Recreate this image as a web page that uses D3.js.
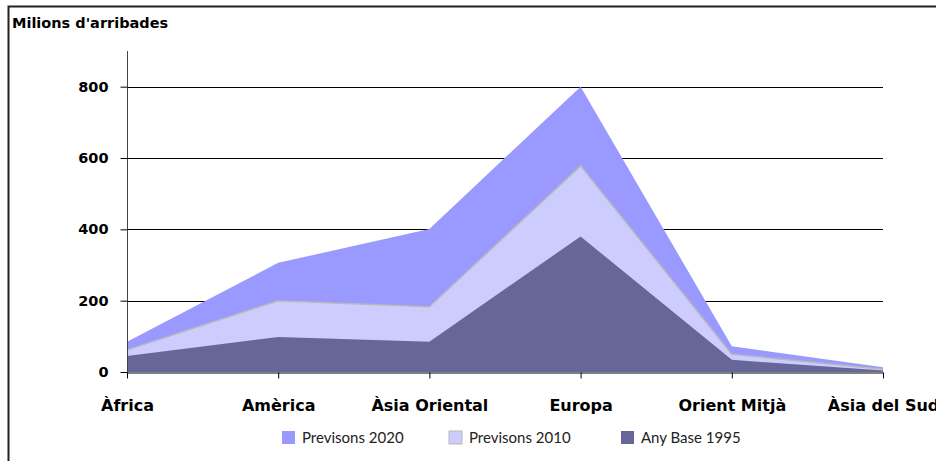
<!DOCTYPE html>
<html>
<head>
<meta charset="utf-8">
<script src="https://cdn.jsdelivr.net/npm/d3@7"></script>
<style>
  body { margin: 0; background: #fff; overflow: hidden; }
  text { font-family: "Gill Sans", "Lato", sans-serif; }
  text.bold { font-family: "DejaVu Sans", sans-serif; font-weight: bold; }
</style>
</head>
<body>
<div id="chart"></div>
<script>
  // The data
  var regions = ["Àfrica", "Amèrica", "Àsia Oriental", "Europa", "Orient Mitjà", "Àsia del Sud"]
  var prev2020 = [85, 306, 401, 800, 72, 13]
  var prev2010 = [62, 200, 183, 578, 50, 8]
  var base1995 = [45, 98, 85, 380, 34, 4]
  var yTicks = [0, 200, 400, 600, 800]

  var series = [
    { name: "Previsons 2020", values: prev2020, fill: "#9999ff" },
    { name: "Previsons 2010", values: prev2010, fill: "#ccccff" },
    { name: "Any Base 1995", values: base1995, fill: "#666699" }
  ]

  var width = 936
  var height = 461

  var svg = d3.select("#chart")
    .append("svg")
    .attr("width", width)
    .attr("height", height)

  // frame
  svg.append("rect")
    .attr("x", 8.5).attr("y", 6.5)
    .attr("width", 1000).attr("height", 500)
    .attr("fill", "none")
    .attr("stroke", "#222")
    .attr("stroke-width", 2)

  var x = d3.scalePoint()
    .domain(regions)
    .range([127, 883])

  var y = d3.scaleLinear()
    .domain([0, 900])
    .range([372, 51])

  // gridlines
  svg.append("g")
    .selectAll("line")
    .data(yTicks.filter(function (d) { return d > 0 }))
    .enter()
    .append("line")
    .attr("x1", 127).attr("x2", 883)
    .attr("y1", function (d) { return Math.round(y(d)) + 0.5 })
    .attr("y2", function (d) { return Math.round(y(d)) + 0.5 })
    .attr("stroke", "#000")
    .attr("stroke-width", 1)

  // areas, back to front
  series.forEach(function (s) {
    var area = d3.area()
      .x(function (d, i) { return x(regions[i]) })
      .y0(y(0))
      .y1(function (d) { return y(d) })
    svg.append("path")
      .datum(s.values)
      .attr("d", area)
      .attr("fill", s.fill)
    if (s.name == "Previsons 2010") {
      svg.append("path")
        .datum(s.values)
        .attr("d", d3.line()
          .x(function (d, i) { return x(regions[i]) })
          .y(function (d) { return y(d) }))
        .attr("fill", "none")
        .attr("stroke", "#b8b8b8")
        .attr("stroke-width", 1.5)
    }
  })

  // y axis
  var yAxis = svg.append("g")
    .attr("transform", "translate(127.5,0)")
    .call(d3.axisLeft(y).tickValues(yTicks).tickSize(7).tickSizeOuter(0).tickPadding(12))
  yAxis.select(".domain").attr("stroke", "#444").attr("d", "M0," + y(900) + "V" + y(0))
  yAxis.selectAll(".tick line").attr("stroke", "#000")
  yAxis.selectAll("text")
    .attr("class", "bold")
    .style("font-size", "14.5px")
    .attr("fill", "#000")

  // x axis
  var xAxis = svg.append("g")
    .attr("transform", "translate(0," + (Math.round(y(0)) + 0.5) + ")")
    .call(d3.axisBottom(x).tickSize(6).tickSizeOuter(0).tickPadding(21))
  xAxis.select(".domain").attr("stroke", "#000")
  xAxis.selectAll(".tick line").attr("stroke", "#000")
  xAxis.selectAll("text")
    .attr("class", "bold")
    .style("font-size", "16px")
    .attr("fill", "#000")

  // y title
  svg.append("text")
    .attr("class", "bold")
    .attr("x", 12)
    .attr("y", 28)
    .style("font-size", "14.5px")
    .text("Milions d'arribades")

  // legend
  var legendX = [282, 449, 621]
  var legend = svg.append("g")
    .selectAll("g")
    .data(series)
    .enter()
    .append("g")
    .attr("transform", function (d, i) { return "translate(" + legendX[i] + ",431)" })
  legend.append("rect")
    .attr("width", 13).attr("height", 13)
    .attr("fill", function (d) { return d.fill })
    .attr("stroke", function (d) { return d.name == "Previsons 2010" ? "#b8b8b8" : "none" })
  legend.append("text")
    .attr("x", 20)
    .attr("y", 12)
    .style("font-size", "15px")
    .attr("fill", "#222")
    .text(function (d) { return d.name })
</script>
</body>
</html>
